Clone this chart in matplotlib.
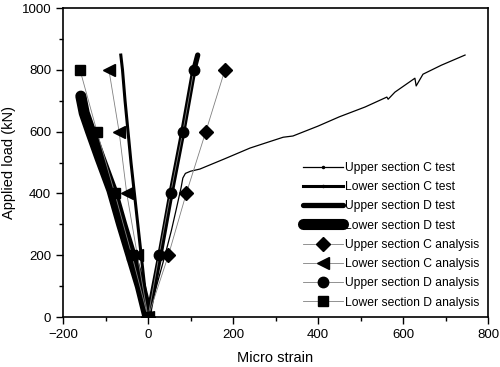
import numpy as np
import matplotlib
matplotlib.use("Agg")
import matplotlib.pyplot as plt
from matplotlib.ticker import MultipleLocator

plt.rcParams['font.family'] = ['Liberation Sans', 'DejaVu Sans']

# test curves (strain, load)
upper_c_test_x = [0, 20, 40, 55, 65, 78, 82, 88, 100, 122, 180, 240, 280, 318, 341, 400, 450,
                  511, 562, 565, 581, 628, 631, 647, 690, 746]
upper_c_test_y = [0, 100, 200, 280, 340, 420, 450, 465, 472, 479, 512, 547, 565, 582, 586, 618,
                  648, 680, 712, 705, 728, 773, 748, 786, 815, 848]

lower_c_test_x = [0, -8, -16, -24, -32, -40, -47, -54, -60, -64]
lower_c_test_y = [0, 100, 200, 300, 400, 500, 600, 700, 800, 848]

upper_d_test_x = [0, 14, 28, 41, 54, 68, 82, 95, 108, 117]
upper_d_test_y = [0, 100, 200, 300, 400, 500, 600, 700, 800, 848]

lower_d_test_x = [0, -18, -40, -62, -85, -113, -135, -150, -158]
lower_d_test_y = [0, 100, 200, 300, 411, 515, 600, 660, 715]

# analysis points
loads = [0, 200, 400, 600, 800]
upper_c_analysis = [0, 48, 90, 136, 181]
lower_c_analysis = [0, -25, -50, -68, -92]
upper_d_analysis = [0, 26, 53, 82, 108]
lower_d_analysis = [0, -38, -78, -120, -160]

fig = plt.figure(figsize=(5.0, 3.67), dpi=100)
ax = fig.add_axes([0.126, 0.136, 0.85, 0.842])

ax.plot(upper_c_test_x, upper_c_test_y, color='black', lw=0.9, label='Upper section C test')
ax.plot(lower_c_test_x, lower_c_test_y, color='black', lw=2.2, label='Lower section C test')
ax.plot(upper_d_test_x, upper_d_test_y, color='black', lw=3.8, solid_capstyle='round',
        label='Upper section D test')
ax.plot(lower_d_test_x, lower_d_test_y, color='black', lw=8.0, solid_capstyle='round',
        label='Lower section D test')

ax.plot(upper_c_analysis, loads, color='gray', lw=0.6, marker='D', markersize=7.5,
        markerfacecolor='black', markeredgecolor='black', label='Upper section C analysis')
ax.plot(lower_c_analysis, loads, color='gray', lw=0.6, marker='<', markersize=8.5,
        markerfacecolor='black', markeredgecolor='black', label='Lower section C analysis')
ax.plot(upper_d_analysis, loads, color='gray', lw=0.6, marker='o', markersize=7.5,
        markerfacecolor='black', markeredgecolor='black', label='Upper section D analysis')
ax.plot(lower_d_analysis, loads, color='gray', lw=0.6, marker='s', markersize=6.5,
        markerfacecolor='black', markeredgecolor='black', label='Lower section D analysis')

ax.set_xlim(-200, 800)
ax.set_ylim(0, 1000)
ax.xaxis.set_major_locator(MultipleLocator(200))
ax.xaxis.set_minor_locator(MultipleLocator(100))
ax.yaxis.set_major_locator(MultipleLocator(200))
ax.yaxis.set_minor_locator(MultipleLocator(100))
ax.tick_params(which='both', direction='out', top=False, right=False, labelsize=9.5)
ax.tick_params(which='major', length=5, width=1)
ax.tick_params(which='minor', length=3, width=1)
for s in ax.spines.values():
    s.set_linewidth(1.2)

ax.set_xlabel('Micro strain', fontsize=10.5, labelpad=7)
ax.set_ylabel('Applied load (kN)', fontsize=10.5, labelpad=4)

leg = ax.legend(loc='lower right', bbox_to_anchor=(1.0, 0.0), frameon=False, fontsize=8.7,
                handlelength=3.3, handletextpad=0.15, labelspacing=0.6, borderaxespad=0.3)
for h in leg.legend_handles[:2]:
    h.set_marker('.')
    h.set_markersize(3)

fig.savefig('out.png', dpi=100)
